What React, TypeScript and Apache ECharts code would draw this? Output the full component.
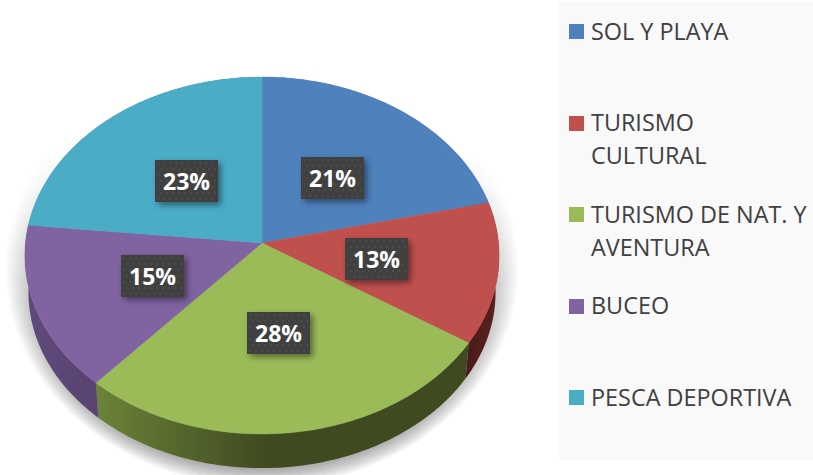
import React, { useEffect, useRef } from "react";
import * as echarts from "echarts";

const categories = ["SOL Y PLAYA", "TURISMO\nCULTURAL", "TURISMO DE NAT. Y\nAVENTURA", "BUCEO", "PESCA DEPORTIVA"];
const shares = [21.3, 12.8, 27.5, 15.0, 23.4];
const faceColors = ["#4f81bd", "#c0504d", "#9bbb59", "#8064a2", "#4bacc6"];
const sideStart = ["#3f6797", "#5a2120", "#6b8339", "#5f4a7d", "#3a8297"];
const sideEnd = ["#3f6797", "#4a1b1a", "#3f4a20", "#59436f", "#3a8297"];

const W = 813, H = 475;
const CX = 262, CY = 243, RX = 236.5, RY = 177.6, K = 0.07;
const DEPTH = 37, BOTTOM_SCALE = 0.985;
const FONT = "'Open Sans', sans-serif";

const total = shares.reduce((a, b) => a + b, 0);
const startFraction = (i: number) => shares.slice(0, i).reduce((a, b) => a + b, 0) / total;

// Perspective projection of a point of the unit disc, angle clockwise from 12 o'clock.
const project = (angle: number, r: number, bottom: boolean): [number, number] => {
  const u = Math.sin(angle) * r;
  const v = -Math.cos(angle) * r;
  const w = 1 - K * v;
  const s = bottom ? BOTTOM_SCALE : 1;
  return [CX + (RX * s * u) / w, CY + (bottom ? DEPTH : 0) + (RY * s * v) / w];
};

const arcPoints = (i: number, bottom: boolean) => {
  const a0 = startFraction(i) * Math.PI * 2;
  const a1 = startFraction(i + 1) * Math.PI * 2;
  const steps = Math.max(8, Math.ceil(((a1 - a0) * 180) / Math.PI));
  const pts: [number, number][] = [];
  for (let s = 0; s <= steps; s++) pts.push(project(a0 + ((a1 - a0) * s) / steps, 1, bottom));
  return pts;
};

const shadowItem = () => {
  const children: any[] = [];
  const layers = 16;
  for (let l = 0; l < layers; l++) {
    const grow = 1 - l / layers;
    children.push({
      type: "ellipse",
      shape: { cx: CX, cy: 268, rx: 224 + 32 * grow, ry: 184 + 34 * grow },
      style: {
        fill: {
          type: "linear", x: 0, y: 0, x2: 0, y2: 1,
          colorStops: [
            { offset: 0.22, color: "rgba(0,0,0,0)" },
            { offset: 0.62, color: "rgba(0,0,0,0.026)" },
            { offset: 0.9, color: "rgba(0,0,0,0.046)" },
            { offset: 1, color: "rgba(0,0,0,0.046)" },
          ],
        },
      },
    });
  }
  return { type: "group", children };
};

const sideItem = (params: any) => {
  const i = params.dataIndex;
  const top = arcPoints(i, false);
  const bot = arcPoints(i, true).reverse();
  const xs = top.map((p) => p[0]);
  const minX = Math.min(...xs), maxX = Math.max(...xs);
  const flip = i !== 1;
  return {
    type: "polygon",
    shape: { points: [...top, ...bot] },
    style: {
      fill: {
        type: "linear", global: true,
        x: flip ? minX : maxX, y: 0, x2: flip ? Math.min(minX + 170, maxX) : minX, y2: 0,
        colorStops: [
          { offset: 0, color: sideStart[i] },
          { offset: 1, color: sideEnd[i] },
        ],
      },
    },
  };
};

const faceItem = (params: any) => {
  const i = params.dataIndex;
  return {
    type: "polygon",
    shape: { points: [[CX, CY], ...arcPoints(i, false)] },
    style: { fill: faceColors[i], stroke: faceColors[i], lineWidth: 0.4 },
  };
};

const labelItem = (params: any, api: any) => {
  const i = params.dataIndex;
  const mid = ((startFraction(i) + startFraction(i + 1)) / 2) * Math.PI * 2;
  const [x, y] = project(mid, 0.49, false);
  const w = 63, h = 42;
  const left = Math.round(x - w / 2), topY = Math.round(y - h / 2) + 1;
  const children: any[] = [
    {
      type: "rect",
      shape: { x: left, y: topY, width: w, height: h },
      style: { fill: "#3f3f3f", shadowBlur: 6, shadowOffsetX: 3, shadowOffsetY: 3, shadowColor: "rgba(0,0,0,0.45)" },
    },
  ];
  for (let row = 0; row < 7; row++) {
    for (let col = 0; col < 10; col++) {
      children.push({
        type: "circle",
        shape: { cx: left + 3 + col * 6 + (row % 2 ? 3 : 0), cy: topY + 3 + row * 6, r: 0.9 },
        style: { fill: "#525252" },
      });
    }
  }
  children.push({
    type: "text",
    x: left + w / 2,
    y: topY + h / 2,
    style: {
      text: `${Math.round(api.value(0))}%`,
      fill: "#ffffff",
      fontFamily: FONT,
      fontWeight: "bold",
      fontSize: 23,
      textAlign: "center",
      textVerticalAlign: "middle",
    },
  });
  return { type: "group", children };
};

const legendItem = (params: any) => {
  const i = params.dataIndex;
  const rowY = 31.5 + i * 91.5;
  const lines = categories[i].split("\n");
  const children: any[] = [
    { type: "rect", shape: { x: 569, y: Math.round(rowY - 7.5), width: 15, height: 15 }, style: { fill: faceColors[i] } },
  ];
  lines.forEach((line, n) => {
    children.push({
      type: "text",
      x: 591,
      y: rowY - 1 + n * 33,
      style: {
        text: line,
        fill: "#404040",
        fontFamily: FONT,
        fontSize: 23.4,
        textAlign: "left",
        textVerticalAlign: "middle",
      },
    });
  });
  return { type: "group", children };
};

const layer = (name: string, renderItem: any, z: number) => ({
  type: "custom" as const,
  name,
  coordinateSystem: "none",
  silent: true,
  clip: false,
  z,
  data: shares.map((v) => [v]),
  renderItem,
});

export default function App() {
  const ref = useRef<HTMLDivElement>(null);
  useEffect(() => {
    if (!ref.current) return;
    const chart = echarts.init(ref.current, undefined, { renderer: "svg" });
    chart.setOption({
      animation: false,
      backgroundColor: "#ffffff",
      graphic: [
        { type: "rect", z: 0, shape: { x: 559, y: 2, width: 254, height: 458 }, style: { fill: "#f9f9f9" } },
      ],
      series: [
        {
          ...layer("shadow", shadowItem, 1),
          data: [[1]],
        },
        layer("sides", sideItem, 2),
        layer("faces", faceItem, 3),
        layer("labels", labelItem, 4),
        layer("legend", legendItem, 5),
      ],
    });
    return () => chart.dispose();
  }, []);
  return <div ref={ref} style={{ position: "fixed", left: 0, top: 0, width: W, height: H }} />;
}
